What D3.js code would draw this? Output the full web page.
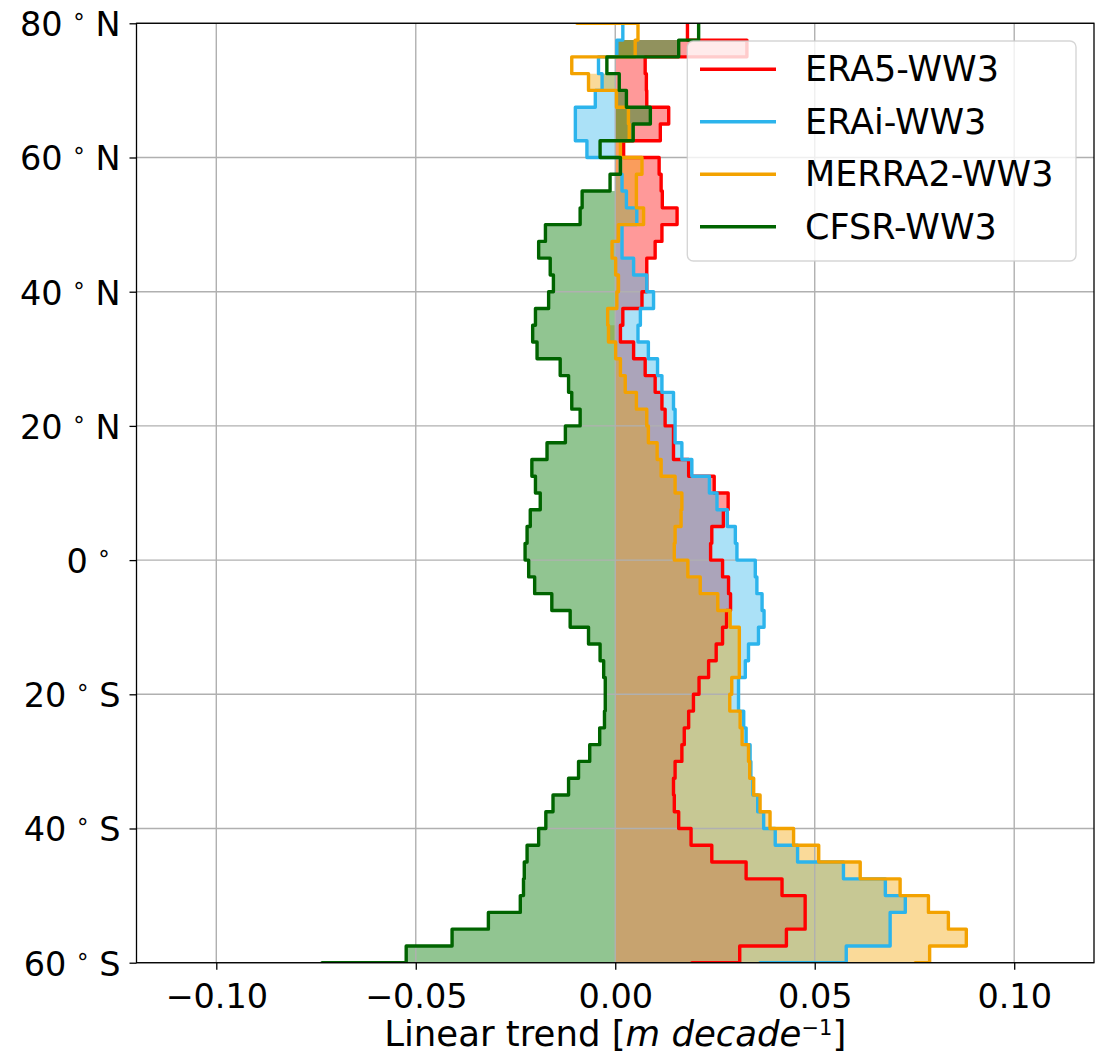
<!DOCTYPE html>
<html>
<head>
<meta charset="utf-8">
<script src="https://cdn.jsdelivr.net/npm/d3@7"></script>
<style>
  html, body { margin: 0; padding: 0; background: #ffffff; }
  svg { display: block; font-family: "DejaVu Sans", sans-serif; }
  text { white-space: pre; }
</style>
</head>
<body>
<svg id="chart" width="1109" height="1061"></svg>
<script>
// ---- Data: lower edge of each 2.5-degree latitude band (south -> north) ----
const latEdges = [-62.5, -60, -57.5, -55, -52.5, -50, -47.5, -45, -42.5, -40,
  -37.5, -35, -32.5, -30, -27.5, -25, -22.5, -20, -17.5, -15,
  -12.5, -10, -7.5, -5, -2.5, 0, 2.5, 5, 7.5, 10,
  12.5, 15, 17.5, 20, 22.5, 25, 27.5, 30, 32.5, 35,
  37.5, 40, 42.5, 45, 47.5, 50, 52.5, 55, 57.5, 60,
  62.5, 65, 67.5, 70, 72.5, 75, 77.5, 80];

const era5 = [0.0192, 0.0312, 0.0429, 0.0476, 0.0476, 0.0418, 0.0328, 0.0242, 0.0190, 0.0159,
  0.0148, 0.0146, 0.0150, 0.0167, 0.0173, 0.0184, 0.0196, 0.0210, 0.0234, 0.0253,
  0.0269, 0.0279, 0.0289, 0.0284, 0.0269, 0.0239, 0.0242, 0.0271, 0.0283, 0.0248,
  0.0184, 0.0146, 0.0146, 0.0125, 0.0117, 0.0100, 0.0075, 0.0046, 0.0013, 0.0019,
  0.0067, 0.0079, 0.0079, 0.0100, 0.0117, 0.0155, 0.0118, 0.0115, 0.0110, 0.0021,
  0.0113, 0.0134, 0.0079, 0.0078, 0.0075, 0.0330, 0.0181, 0.0181];

const erai = [0.0363, 0.0579, 0.0689, 0.0689, 0.0727, 0.0677, 0.0572, 0.0457, 0.0401, 0.0372,
  0.0357, 0.0345, 0.0340, 0.0338, 0.0328, 0.0322, 0.0309, 0.0309, 0.0326, 0.0334,
  0.0359, 0.0373, 0.0368, 0.0355, 0.0351, 0.0305, 0.0301, 0.0281, 0.0255, 0.0236,
  0.0192, 0.0167, 0.0150, 0.0150, 0.0146, 0.0117, 0.0106, 0.0083, 0.0057, 0.0063,
  0.0096, 0.0079, 0.0046, 0.0017, 0.0017, 0.0054, 0.0028, 0.0017, 0.0013, -0.0071,
  -0.0100, -0.0100, -0.0050, -0.0033, -0.0042, 0.0004, 0.0019, 0.0019];

const merra2 = [0.0752, 0.0788, 0.0880, 0.0835, 0.0785, 0.0714, 0.0614, 0.0510, 0.0447, 0.0388,
  0.0363, 0.0347, 0.0337, 0.0334, 0.0318, 0.0313, 0.0287, 0.0292, 0.0311, 0.0311,
  0.0311, 0.0288, 0.0257, 0.0213, 0.0182, 0.0148, 0.0150, 0.0165, 0.0167, 0.0150,
  0.0115, 0.0105, 0.0083, 0.0079, 0.0053, 0.0025, 0.0013, 0.0001, -0.0017, -0.0019,
  0.0004, 0.0008, 0.0001, -0.0008, 0.0008, 0.0071, 0.0053, 0.0053, 0.0067, 0.0013,
  0.0035, 0.0033, 0.0003, -0.0067, -0.0109, 0.0050, 0.0057, -0.0096];

const cfsr = [-0.0735, -0.0524, -0.0409, -0.0318, -0.0238, -0.0230, -0.0228, -0.0221, -0.0192, -0.0174,
  -0.0156, -0.0117, -0.0092, -0.0064, -0.0039, -0.0027, -0.0025, -0.0025, -0.0029, -0.0038,
  -0.0067, -0.0113, -0.0159, -0.0202, -0.0217, -0.0226, -0.0221, -0.0213, -0.0188, -0.0200,
  -0.0209, -0.0171, -0.0125, -0.0088, -0.0109, -0.0117, -0.0138, -0.0196, -0.0207, -0.0200,
  -0.0167, -0.0155, -0.0163, -0.0192, -0.0175, -0.0088, -0.0083, -0.0013, 0.0013, -0.0038,
  0.0045, 0.0088, 0.0028, 0.0010, -0.0021, 0.0159, 0.0209, 0.0209];

const seriesNames = ["ERA5-WW3", "ERAi-WW3", "MERRA2-WW3", "CFSR-WW3"];
const seriesValues = [era5, erai, merra2, cfsr];
const lineColors = ["#ff0000", "#2cb4ec", "#f3a200", "#006400"];
const fillColors = ["#ff0000", "#2cb4ec", "#f3a200", "#238b23"];
const fillOpacity = [0.4, 0.4, 0.4, 0.5];

const xTicks = [-0.10, -0.05, 0.00, 0.05, 0.10];
const yTicks = [-60, -40, -20, 0, 20, 40, 60, 80];
const yTickLabels = [["60", "S"], ["40", "S"], ["20", "S"], ["0", ""], ["20", "N"], ["40", "N"], ["60", "N"], ["80", "N"]];
const xDomain = [-0.12, 0.12];
const yDomain = [-60, 80];
const binWidth = 2.5;

// ---- Layout ----
const plot = { left: 136.5, right: 1094, top: 23.3, bottom: 962.7 };
const svg = d3.select("#chart");
const x = d3.scaleLinear().domain(xDomain).range([plot.left, plot.right]);
const y = d3.scaleLinear().domain(yDomain).range([plot.bottom, plot.top]);

svg.append("defs").append("clipPath").attr("id", "plotclip")
  .append("rect")
  .attr("x", plot.left).attr("y", plot.top)
  .attr("width", plot.right - plot.left).attr("height", plot.bottom - plot.top);

const gFill = svg.append("g").attr("clip-path", "url(#plotclip)");
const gGrid = svg.append("g");
const gLines = svg.append("g").attr("clip-path", "url(#plotclip)");

// ---- Fills (a band is filled when it shares its sign with the band north of it) ----
const area = d3.area()
  .y(d => y(d[1]))
  .x0(x(0))
  .x1(d => x(d[0]))
  .curve(d3.curveStepBefore);

seriesValues.forEach((vals, s) => {
  const visible = [];
  latEdges.forEach((l, i) => { if (l >= yDomain[0] && l < yDomain[1]) visible.push(i); });
  const filled = visible.map((i, k) => {
    if (k === visible.length - 1) return false;
    const a = vals[i], b = vals[visible[k + 1]];
    return (a > 0 && b > 0) || (a < 0 && b < 0);
  });
  let run = [];
  const flush = () => {
    if (run.length) {
      const pts = run.map(i => [vals[i], latEdges[i]]);
      const last = run[run.length - 1];
      pts.push([vals[last], latEdges[last] + binWidth]);
      gFill.append("path")
        .attr("d", area(pts))
        .attr("fill", fillColors[s])
        .attr("fill-opacity", fillOpacity[s])
        .attr("stroke", "none");
    }
    run = [];
  };
  visible.forEach((i, k) => {
    if (filled[k]) run.push(i); else flush();
  });
  flush();
});

// ---- Grid ----
xTicks.forEach(t => {
  gGrid.append("line")
    .attr("x1", x(t)).attr("x2", x(t))
    .attr("y1", plot.top).attr("y2", plot.bottom)
    .attr("stroke", "#b0b0b0").attr("stroke-width", 1.4);
});
yTicks.forEach(t => {
  gGrid.append("line")
    .attr("x1", plot.left).attr("x2", plot.right)
    .attr("y1", y(t)).attr("y2", y(t))
    .attr("stroke", "#b0b0b0").attr("stroke-width", 1.4);
});

// ---- Step lines ----
const line = d3.line()
  .x(d => x(d[0]))
  .y(d => y(d[1]))
  .curve(d3.curveStepBefore);

seriesValues.forEach((vals, s) => {
  const pts = latEdges.map((l, i) => [vals[i], l]);
  pts.push([vals[vals.length - 1], latEdges[latEdges.length - 1] + binWidth]);
  gLines.append("path")
    .attr("d", line(pts))
    .attr("fill", "none")
    .attr("stroke", lineColors[s])
    .attr("stroke-width", 3.4)
    .attr("stroke-linejoin", "round");
});

// ---- Axes ----
const fmtX = d => d3.format(".2f")(d).replace("-", "\u2212");
const xAxis = d3.axisBottom(x).tickValues(xTicks).tickFormat(fmtX).tickSize(7).tickPadding(15);
const gx = svg.append("g").attr("transform", `translate(0,${plot.bottom})`).call(xAxis);
gx.select(".domain").remove();
gx.selectAll(".tick line").attr("stroke", "#000").attr("stroke-width", 1.3);
gx.selectAll(".tick text").attr("fill", "#000").style("font-size", "33.5px")
  .style("font-family", "DejaVu Sans, sans-serif");

const yAxis = d3.axisLeft(y).tickValues(yTicks).tickSize(7).tickPadding(9);
const gy = svg.append("g").attr("transform", `translate(${plot.left},0)`).call(yAxis);
gy.select(".domain").remove();
gy.selectAll(".tick line").attr("stroke", "#000").attr("stroke-width", 1.3);
gy.selectAll(".tick text").each(function (d) {
  const idx = yTicks.indexOf(d);
  const lab = yTickLabels[idx];
  const t = d3.select(this);
  t.text(null)
    .attr("fill", "#000")
    .attr("dy", "0.37em")
    .style("font-size", "33.5px")
    .style("font-family", "DejaVu Sans, sans-serif");
  t.append("tspan").text(lab[0] + " ");
  t.append("tspan").text("\u00B0").style("font-size", "23px").attr("dy", -6);
  t.append("tspan").text(" " + lab[1]).attr("dy", 6);
});

// ---- Spines ----
svg.append("rect")
  .attr("x", plot.left).attr("y", plot.top)
  .attr("width", plot.right - plot.left).attr("height", plot.bottom - plot.top)
  .attr("fill", "none").attr("stroke", "#000").attr("stroke-width", 1.3);

// ---- X axis label ----
const xl = svg.append("text")
  .attr("x", (plot.left + plot.right) / 2)
  .attr("y", 1046)
  .attr("text-anchor", "middle")
  .style("font-size", "35.5px")
  .attr("fill", "#000");
xl.append("tspan").text("Linear trend [");
xl.append("tspan").text("m decade").style("font-style", "italic");
xl.append("tspan").text("\u22121").style("font-size", "21px").attr("dy", -11);
xl.append("tspan").text("]").attr("dy", 11);

// ---- Legend ----
const lg = svg.append("g");
lg.append("rect")
  .attr("x", 687.3).attr("y", 41).attr("width", 388.7).attr("height", 220)
  .attr("rx", 6).attr("ry", 6)
  .attr("fill", "#ffffff").attr("fill-opacity", 0.8)
  .attr("stroke", "#cccccc").attr("stroke-opacity", 0.8).attr("stroke-width", 1.4);
const legendY = d3.scalePoint().domain(seriesNames).range([69.3, 226.7]);
seriesNames.forEach((name, s) => {
  const yy = legendY(name);
  lg.append("line")
    .attr("x1", 700).attr("x2", 776).attr("y1", yy).attr("y2", yy)
    .attr("stroke", lineColors[s]).attr("stroke-width", 3.4);
  lg.append("text")
    .attr("x", 805).attr("y", yy + 12)
    .style("font-size", "35px")
    .attr("fill", "#000")
    .text(name);
});
</script>
</body>
</html>
